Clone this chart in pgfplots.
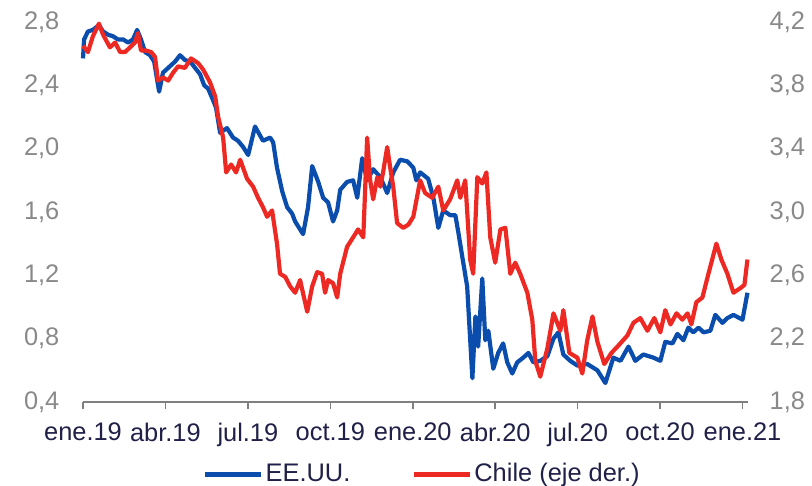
\documentclass[border=0pt]{standalone}
\usepackage{pgfplots}
\pgfplotsset{compat=1.18}
\usepackage{fontspec}
\setmainfont{Liberation Sans}
\definecolor{usblue}{RGB}{10,77,173}
\definecolor{clred}{RGB}{237,41,36}
\definecolor{ticklab}{RGB}{137,137,137}
\definecolor{xlab}{RGB}{32,32,72}
\definecolor{axgray}{RGB}{128,128,128}
\newcommand{\bigf}{\fontsize{25.5}{30}\selectfont}
\pgfplotsset{
  common/.style={
    scale only axis, width=665bp, height=380bp,
    xmin=0, xmax=24.2, clip=false, enlargelimits=false,
    y axis line style={draw=none}, ytick style={draw=none},
    yticklabel style={font=\bigf, text=ticklab,
      /pgf/number format/use comma, /pgf/number format/fixed,
      /pgf/number format/fixed zerofill, /pgf/number format/precision=1,
      /pgf/number format/assume math mode=true},
  },
}
\begin{document}
\bigf
\begin{tikzpicture}
\path[use as bounding box] (-83bp,-84bp) rectangle (729bp,402bp);
\begin{axis}[common,
  ymin=0.4, ymax=2.8, ytick={0.4,0.8,1.2,1.6,2.0,2.4,2.8},
  yticklabel style={xshift=-15bp},
  axis x line*=bottom, axis y line*=left,
  x axis line style={draw=axgray, line width=1.5bp},
  xtick={0,3,6,9,12,15,18,21,24},
  xticklabels={ene.19,abr.19,jul.19,oct.19,ene.20,abr.20,jul.20,oct.20,ene.21},
  xtick align=outside, major tick length=7bp,
  xtick style={draw=axgray, line width=1.5bp},
  xticklabel style={font=\bigf, text=xlab, yshift=-5bp},
]
\addplot[usblue, line width=4.2bp, line join=round] coordinates {
(0.00,2.57)(0.04,2.69)(0.18,2.74)(0.36,2.75)(0.58,2.78)(0.73,2.74)(0.91,2.72)(1.09,2.71)
(1.27,2.69)(1.46,2.69)(1.64,2.67)(1.82,2.69)(1.97,2.75)(2.11,2.69)(2.26,2.61)(2.44,2.59)
(2.59,2.55)(2.77,2.36)(2.91,2.48)(3.10,2.51)(3.35,2.55)(3.53,2.59)(3.71,2.56)(3.90,2.55)
(4.08,2.51)(4.26,2.47)(4.41,2.40)(4.55,2.38)(4.70,2.32)(4.84,2.26)(4.99,2.10)(5.24,2.13)
(5.46,2.07)(5.64,2.05)(5.83,2.01)(6.01,1.96)(6.26,2.14)(6.55,2.05)(6.81,2.07)(6.92,2.04)
(7.06,1.88)(7.25,1.73)(7.43,1.63)(7.61,1.59)(7.72,1.54)(7.90,1.49)(8.01,1.46)(8.19,1.63)
(8.34,1.89)(8.56,1.79)(8.74,1.69)(8.92,1.66)(9.10,1.54)(9.25,1.61)(9.36,1.74)(9.61,1.79)
(9.83,1.80)(9.98,1.69)(10.16,1.94)(10.34,1.80)(10.56,1.87)(10.82,1.82)(11.07,1.72)(11.29,1.85)
(11.54,1.93)(11.80,1.92)(12.02,1.88)(12.13,1.80)(12.27,1.85)(12.56,1.81)(12.75,1.69)(12.93,1.50)
(13.11,1.61)(13.36,1.58)(13.55,1.58)(13.66,1.47)(13.80,1.32)(13.98,1.13)(14.17,0.55)(14.28,0.94)
(14.38,0.75)(14.53,1.18)(14.64,0.79)(14.75,0.85)(14.93,0.61)(15.11,0.71)(15.29,0.77)(15.44,0.65)
(15.62,0.58)(15.80,0.65)(16.02,0.68)(16.21,0.71)(16.39,0.65)(16.64,0.66)(16.90,0.69)(17.12,0.80)
(17.30,0.84)(17.48,0.70)(17.73,0.66)(17.99,0.63)(18.35,0.64)(18.72,0.60)(19.01,0.52)(19.30,0.68)
(19.56,0.66)(19.85,0.75)(20.10,0.66)(20.39,0.70)(20.76,0.68)(21.01,0.66)(21.19,0.78)(21.45,0.77)
(21.63,0.83)(21.85,0.79)(22.03,0.87)(22.21,0.84)(22.40,0.87)(22.58,0.84)(22.83,0.85)(23.01,0.95)
(23.27,0.90)(23.45,0.93)(23.67,0.95)(24.00,0.92)(24.18,1.09)
};
\end{axis}
\begin{axis}[common,
  ymin=1.8, ymax=4.2, ytick={1.8,2.2,2.6,3.0,3.4,3.8,4.2},
  yticklabel style={xshift=13bp},
  axis x line=none, axis y line*=right,
  legend style={at={(0.51,-0.19)}, anchor=center, draw=none, fill=none,
    legend columns=2, font=\bigf, text=xlab, nodes={inner xsep=2bp},
    /tikz/every even column/.append style={column sep=59bp}},
  legend image code/.code={\draw[#1, line width=5bp] (0bp,0bp) -- (56bp,0bp);},
]
\addlegendimage{usblue}
\addlegendentry{EE.UU.}
\addplot[clred, line width=4.2bp, line join=round] coordinates {
(0.00,4.05)(0.18,4.01)(0.36,4.11)(0.58,4.19)(0.73,4.12)(0.98,4.04)(1.17,4.07)(1.35,4.01)
(1.53,4.01)(1.71,4.04)(1.89,4.07)(2.00,4.13)(2.11,4.02)(2.29,4.02)(2.48,4.01)(2.62,3.98)
(2.73,3.83)(2.91,3.85)(3.10,3.83)(3.28,3.88)(3.46,3.92)(3.71,3.91)(3.93,3.97)(4.19,3.94)
(4.37,3.90)(4.62,3.82)(4.81,3.73)(4.92,3.60)(5.10,3.47)(5.21,3.25)(5.39,3.30)(5.57,3.25)
(5.72,3.33)(5.97,3.21)(6.19,3.16)(6.37,3.09)(6.55,3.03)(6.70,2.97)(6.88,3.01)(7.06,2.80)
(7.17,2.61)(7.36,2.59)(7.54,2.53)(7.72,2.49)(7.90,2.57)(8.16,2.37)(8.34,2.53)(8.52,2.62)
(8.70,2.61)(8.81,2.49)(8.92,2.57)(9.10,2.55)(9.25,2.46)(9.36,2.61)(9.61,2.78)(9.83,2.84)
(10.01,2.89)(10.20,2.84)(10.34,3.47)(10.45,3.20)(10.56,3.08)(10.71,3.22)(10.82,3.16)(10.92,3.25)
(11.07,3.41)(11.18,3.28)(11.29,3.16)(11.43,2.93)(11.65,2.90)(11.84,2.92)(12.02,2.97)(12.27,3.20)
(12.45,3.12)(12.71,3.09)(12.93,3.16)(13.11,3.01)(13.36,3.08)(13.62,3.20)(13.73,3.09)(13.91,3.20)
(14.09,2.70)(14.20,2.61)(14.35,3.22)(14.53,3.18)(14.68,3.25)(14.82,2.84)(15.00,2.68)(15.19,2.89)
(15.37,2.90)(15.55,2.61)(15.73,2.68)(15.91,2.61)(16.17,2.49)(16.35,2.32)(16.46,2.06)(16.64,1.96)
(16.90,2.14)(17.12,2.36)(17.37,2.25)(17.48,2.38)(17.70,2.11)(17.99,2.08)(18.17,1.98)(18.35,2.19)
(18.54,2.34)(18.72,2.18)(18.97,2.04)(19.23,2.11)(19.45,2.15)(19.81,2.22)(20.03,2.30)(20.28,2.33)
(20.54,2.25)(20.79,2.33)(21.01,2.24)(21.19,2.38)(21.38,2.29)(21.60,2.36)(21.81,2.32)(22.00,2.36)
(22.14,2.29)(22.32,2.43)(22.54,2.46)(22.76,2.61)(23.05,2.80)(23.23,2.70)(23.45,2.61)(23.67,2.49)
(23.93,2.52)(24.07,2.54)(24.18,2.70)
};
\addlegendentry{Chile (eje der.)}
\end{axis}
\end{tikzpicture}
\end{document}
